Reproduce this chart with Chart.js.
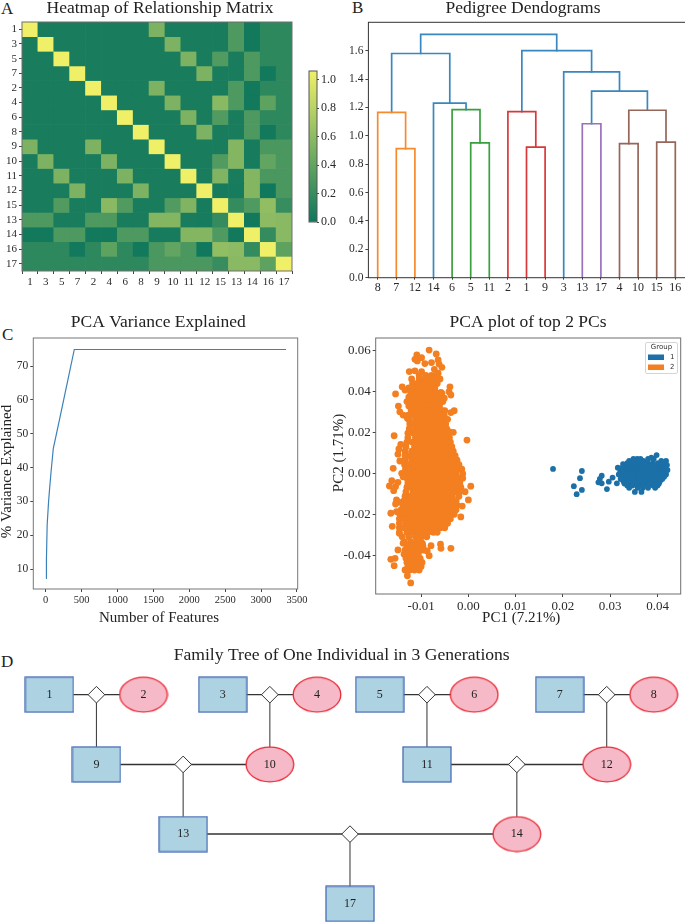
<!DOCTYPE html>
<html><head><meta charset="utf-8">
<script src="https://cdn.jsdelivr.net/npm/chart.js@4"></script>
<style>
html,body{margin:0;padding:0;background:#fff;width:685px;height:923px;overflow:hidden;position:relative}
canvas{position:absolute;filter:blur(.3px)}
.tag{position:absolute;font:17px 'Liberation Serif',serif;color:#222;line-height:17px}
</style></head><body>
<div class="tag" style="left:1px;top:0px">A</div>
<div class="tag" style="left:352px;top:-1px">B</div>
<div class="tag" style="left:2px;top:326px">C</div>
<div class="tag" style="left:1px;top:653px">D</div>
<script>
/* ---------- A: relationship heatmap ---------- */
const heatLabels = ['1','3','5','7','2','4','6','8','9','10','11','12','15','13','14','16','17'];
const heatRow1  = [1.06,.06,.06,.06,.06,.06,.06,.06,.52,.06,.06,.06,.06,.30,.03,.16,.16];
const heatRow3  = [.06,1.06,.06,.06,.06,.06,.06,.06,.06,.52,.06,.06,.06,.30,.03,.16,.16];
const heatRow5  = [.06,.06,1.06,.06,.06,.06,.06,.06,.06,.06,.52,.06,.32,.06,.30,.16,.16];
const heatRow7  = [.06,.06,.06,1.06,.06,.06,.06,.06,.06,.06,.06,.52,.06,.06,.30,.03,.16];
const heatRow2  = [.06,.06,.06,.06,1.06,.06,.06,.06,.52,.06,.06,.06,.06,.30,.03,.16,.16];
const heatRow4  = [.06,.06,.06,.06,.06,1.06,.06,.06,.06,.52,.06,.06,.58,.30,.03,.38,.16];
const heatRow6  = [.06,.06,.06,.06,.06,.06,1.06,.06,.06,.06,.52,.06,.32,.06,.30,.16,.16];
const heatRow8  = [.06,.06,.06,.06,.06,.06,.06,1.06,.06,.06,.06,.52,.06,.06,.30,.03,.16];
const heatRow9  = [.52,.06,.06,.06,.52,.06,.06,.06,1.06,.06,.06,.06,.06,.56,.05,.29,.29];
const heatRow10 = [.06,.52,.06,.06,.06,.52,.06,.06,.06,1.06,.06,.06,.32,.56,.05,.40,.29];
const heatRow11 = [.06,.06,.52,.06,.06,.06,.52,.06,.06,.06,1.06,.06,.54,.06,.56,.29,.29];
const heatRow12 = [.06,.06,.06,.52,.06,.06,.06,.52,.06,.06,.06,1.06,.05,.05,.56,.02,.29];
const heatRow15 = [.06,.06,.32,.06,.06,.58,.32,.06,.06,.32,.54,.05,1.06,.18,.31,.62,.20];
const heatRow13 = [.30,.30,.06,.06,.30,.30,.06,.06,.56,.56,.06,.05,.18,1.06,.03,.60,.58];
const heatRow14 = [.03,.03,.30,.30,.03,.03,.30,.30,.05,.05,.56,.56,.31,.03,1.06,.18,.58];
const heatRow16 = [.16,.16,.16,.03,.16,.38,.16,.03,.29,.40,.29,.02,.62,.60,.18,1.06,.38];
const heatRow17 = [.16,.16,.16,.16,.16,.16,.16,.16,.29,.29,.29,.29,.20,.58,.58,.38,1.06];
const heatMatrix = [heatRow1,heatRow3,heatRow5,heatRow7,heatRow2,heatRow4,heatRow6,heatRow8,heatRow9,heatRow10,heatRow11,heatRow12,heatRow15,heatRow13,heatRow14,heatRow16,heatRow17];
const colorbarTicks = [0,.2,.4,.6,.8,1];

/* ---------- B: dendrogram ---------- */
const leafLabels = ['8','7','12','14','6','5','11','2','1','9','3','13','17','4','10','15','16'];
const leafPositions = [5,15,25,35,45,55,65,75,85,95,105,115,125,135,145,155,165];
const dendroTicks = [0,.2,.4,.6,.8,1,1.2,1.4,1.6];
const linkXs = [[15,15,25,25],[5,5,20,20],[55,55,65,65],[45,45,60,60],[35,35,52.5,52.5],[12.5,12.5,43.75,43.75],
  [85,85,95,95],[75,75,90,90],[115,115,125,125],[135,135,145,145],[155,155,165,165],[140,140,160,160],
  [120,120,150,150],[105,105,135,135],[82.5,82.5,120,120],[28.1,28.1,101.25,101.25]];
const linkHeights = [[0,.91,.91,0],[0,1.165,1.165,.91],[0,.95,.95,0],[0,1.185,1.185,.95],[0,1.23,1.23,1.185],[1.165,1.58,1.58,1.23],
  [0,.92,.92,0],[0,1.17,1.17,.92],[0,1.085,1.085,0],[0,.945,.945,0],[0,.955,.955,0],[.945,1.18,1.18,.955],
  [1.085,1.315,1.315,1.18],[0,1.45,1.45,1.315],[1.17,1.6,1.6,1.45],[1.58,1.715,1.715,1.6]];
const linkColors = ['#f58a2e','#f58a2e','#3aa03f','#3aa03f','#3a87bd','#3a87bd','#d8383a','#d8383a','#9a70bb','#96665a','#96665a','#96665a','#3a87bd','#3a87bd','#3a87bd','#3a87bd'];

/* ---------- C: variance curve ---------- */
const featureCounts = [5,10,20,40,60,80,106,200,300,398,1000,2000,3347];
const varianceExplained = [7.2,13,23,30,35.3,40,45.7,55,65,74.9,74.9,74.9,74.9];
const featureTicks = [0,500,1000,1500,2000,2500,3000,3500];
const varianceTicks = [10,20,30,40,50,60,70];

/* ---------- D: PCA scatter ---------- */
const orangeRowPC2 = [.0478,.0460,.0438,.0416,.0394,.0372,.0350,.0328,.0306,.0284,.0262,.0240,.0218,.0196,.0174,.0152,.0130,.0108,.0086,.0064,.0042,.0020,-.0002,-.0024,-.0046,-.0068,-.0090,-.0112,-.0134,-.0156,-.0178,-.0200,-.0222,-.0244,-.0266,-.0288,-.0310,-.0335,-.0355,-.0375,-.0395,-.0415,-.0435,-.0455,-.0472];
const orangeRowPC1 = [
[-.0104,-.0090,-.0078,-.0069],
[-.0120,-.0104,-.0092,-.0081,-.0071,-.0060],
[-.0118,-.0108,-.0097,-.0086,-.0076,-.0066],
[-.0126,-.0115,-.0103,-.0093,-.0082,-.0071],
[-.0122,-.0112,-.0101,-.0090,-.0080,-.0069,-.0058],
[-.0126,-.0116,-.0105,-.0094,-.0083,-.0073,-.0062],
[-.0130,-.0119,-.0108,-.0098,-.0087,-.0076,-.0066,-.0054],
[-.0126,-.0115,-.0104,-.0093,-.0082,-.0072,-.0061],
[-.0121,-.0110,-.0099,-.0088,-.0078,-.0067,-.0056,-.0050],
[-.0127,-.0116,-.0105,-.0094,-.0084,-.0073,-.0062,-.0051],
[-.0126,-.0112,-.0101,-.0090,-.0079,-.0069,-.0058,-.0047],
[-.0124,-.0117,-.0106,-.0095,-.0085,-.0074,-.0063,-.0052,-.0048],
[-.0125,-.0112,-.0100,-.0090,-.0079,-.0068,-.0057,-.0046],
[-.0128,-.0117,-.0106,-.0095,-.0084,-.0073,-.0063,-.0052,-.0044],
[-.0128,-.0112,-.0101,-.0090,-.0079,-.0068,-.0058,-.0047,-.0040],
[-.0130,-.0119,-.0107,-.0096,-.0085,-.0074,-.0063,-.0052,-.0042,-.0038],
[-.0132,-.0114,-.0102,-.0091,-.0080,-.0069,-.0058,-.0047,-.0035],
[-.0134,-.0120,-.0108,-.0097,-.0086,-.0075,-.0064,-.0053,-.0042,-.0032],
[-.0134,-.0125,-.0114,-.0103,-.0092,-.0081,-.0070,-.0059,-.0048,-.0037,-.0028],
[-.0134,-.0120,-.0108,-.0097,-.0086,-.0075,-.0064,-.0053,-.0042,-.0031,-.0024],
[-.0135,-.0125,-.0114,-.0103,-.0092,-.0081,-.0070,-.0059,-.0048,-.0037,-.0026,-.0020],
[-.0133,-.0120,-.0108,-.0097,-.0086,-.0075,-.0064,-.0053,-.0042,-.0031,-.0020,-.0014],
[-.0132,-.0125,-.0114,-.0103,-.0092,-.0081,-.0070,-.0059,-.0048,-.0037,-.0026,-.0012],
[-.0130,-.0120,-.0108,-.0097,-.0086,-.0075,-.0064,-.0053,-.0042,-.0031,-.0020,-.0012],
[-.0128,-.0117,-.0106,-.0095,-.0084,-.0073,-.0062,-.0051,-.0040,-.0029,-.0018],
[-.0130,-.0122,-.0111,-.0100,-.0089,-.0078,-.0067,-.0056,-.0045,-.0034,-.0023,-.0016],
[-.0132,-.0117,-.0106,-.0095,-.0084,-.0073,-.0062,-.0051,-.0040,-.0029,-.0018],
[-.0134,-.0122,-.0111,-.0100,-.0089,-.0078,-.0067,-.0056,-.0045,-.0034,-.0020],
[-.0136,-.0125,-.0114,-.0103,-.0092,-.0081,-.0070,-.0059,-.0048,-.0037,-.0026],
[-.0138,-.0128,-.0117,-.0106,-.0095,-.0084,-.0073,-.0062,-.0051,-.0040,-.0029,-.0024],
[-.0142,-.0131,-.0120,-.0109,-.0098,-.0087,-.0076,-.0065,-.0054,-.0043,-.0032,-.0026],
[-.0145,-.0134,-.0123,-.0112,-.0101,-.0090,-.0079,-.0068,-.0057,-.0046,-.0036,-.0030],
[-.0146,-.0136,-.0125,-.0114,-.0103,-.0092,-.0081,-.0070,-.0059,-.0048,-.0038],
[-.0146,-.0133,-.0122,-.0111,-.0100,-.0089,-.0078,-.0067,-.0056,-.0044],
[-.0146,-.0136,-.0125,-.0114,-.0103,-.0092,-.0081,-.0070,-.0059,-.0050],
[-.0146,-.0130,-.0118,-.0107,-.0096,-.0085,-.0074,-.0066],
[-.0140,-.0126,-.0112,-.0100,-.0088],
[-.0135,-.0122,-.0110,-.0100],
[-.0130,-.0118,-.0108,-.0096],
[-.0134,-.0124,-.0112,-.0102,-.0094],
[-.0136,-.0126,-.0114,-.0106],
[-.0132,-.0122,-.0112,-.0102],
[-.0130,-.0118,-.0108,-.0098],
[-.0128,-.0120,-.0110,-.0100],
[-.0134,-.0124,-.0114,-.0104]];
const orangeStrayPC1 = [-.0083,-.0068,-.0109,-.0099,-.0113,-.0108,-.0092,-.0078,-.0064,-.0062,-.0056,-.0072,-.0125,-.0113,-.0099,-.0064,-.0154,-.0140,-.0134,-.0039,-.0056,-.0041,-.0037,-.0051,-.0148,-.0145,-.0138,-.0129,-.0030,-.0037,-.0044,-.0157,-.0143,-.0147,-.0149,-.0145,-.0159,-.0141,-.0138,-.0162,-.0167,-.0149,-.0154,-.0158,-.0152,-.0147,-.0154,-.0164,-.0152,-.0003,-.0041,-.0032,-.0028,.0005,-.0007,.0000,-.0013,-.0035,-.0016,-.0051,-.0161,-.0148,-.0146,-.0037,-.0059,-.0058,-.0079,-.0097,-.0083,-.0087,-.0149,-.0164,-.0155,-.0157,-.0138,-.0129,-.0122];
const orangeStrayPC2 = [.0601,.0582,.0577,.0564,.0556,.0548,.0535,.0540,.0553,.0533,.0517,.0507,.0496,.0500,.0496,.0488,.0387,.0422,.0406,.0422,.0390,.0398,.0382,.0366,.0328,.0300,.0284,.0268,.0305,.0296,.0263,.0183,.0141,.0119,.0093,.0060,.0024,.0000,-.0017,-.0036,-.0062,-.0044,-.0065,-.0085,-.0130,-.0141,-.0150,-.0195,-.0187,.0162,.0203,.0200,.0073,-.0063,-.0090,-.0130,-.0160,-.0184,-.0213,-.0256,-.0259,-.0190,-.0293,-.0366,-.0346,-.0366,-.0353,-.0343,-.0402,-.0379,-.0374,-.0420,-.0415,-.0451,-.0341,-.0500,-.0535];
const blueRowPC2 = [.0070,.0060,.0050,.0040,.0028,.0016,.0005,-.0006,-.0017,-.0028,-.0039,-.0050,-.0060,-.0071];
const blueRowPC1 = [
[.0349,.0357,.0364,.0380,.0392],
[.0340,.0350,.0360,.0370,.0408,.0418],
[.0336,.0346,.0357,.0368,.0379,.0390,.0401,.0413],
[.0330,.0341,.0352,.0363,.0374,.0385,.0396,.0407,.0420],
[.0326,.0337,.0347,.0358,.0369,.0380,.0391,.0402,.0413],
[.0324,.0335,.0346,.0357,.0368,.0379,.0390,.0401,.0412,.0421],
[.0321,.0331,.0342,.0352,.0363,.0374,.0385,.0396,.0407,.0417],
[.0318,.0329,.0340,.0351,.0362,.0373,.0384,.0395,.0406,.0418],
[.0327,.0338,.0349,.0360,.0371,.0382,.0393,.0404,.0414],
[.0322,.0333,.0344,.0355,.0366,.0377,.0388,.0399,.0410],
[.0328,.0339,.0350,.0361,.0372,.0383,.0394,.0405],
[.0330,.0341,.0352,.0363,.0374,.0385,.0396,.0403],
[.0336,.0347,.0358,.0369,.0380,.0391,.0400],
[.0340,.0358,.0369,.0380,.0395]];
const blueStrayPC1 = [.0179,.0240,.0236,.0223,.0240,.0229,.0282,.0278,.0275,.0282,.0293,.0297,.0305,.0314,.0316,.0327,.0352,.0366,.0387,.0398];
const blueStrayPC2 = [.0021,.0011,-.0024,-.0063,-.0081,-.0102,-.0012,-.0028,-.0044,-.0049,-.0077,-.0041,-.0021,-.0049,.0027,.0045,-.0091,-.0091,.0076,.0089];
const groupNames = ['1','2'];
const pc1Ticks = [-.01,0,.01,.02,.03,.04];
const pc2Ticks = [-.04,-.02,0,.02,.04,.06];

/* ---------- E: family tree ---------- */
const memberIds = [1,2,3,4,5,6,7,8,9,10,11,12,13,14,17];
const founderX = {1:49.4,2:143.5,3:222.7,4:317,5:379.7,6:474.2,7:559.7,8:653.7};
const generationOf = {1:0,2:0,3:0,4:0,5:0,6:0,7:0,8:0,9:1,10:1,11:1,12:1,13:2,14:2,17:3};
const couples = [[1,2,9],[3,4,10],[5,6,11],[7,8,12],[9,10,13],[11,12,14],[13,14,17]];

/* ---------- helpers ---------- */
const SERIF = "'Liberation Serif','Times New Roman',serif";
const INK = '#2a2a2a';
Chart.defaults.animation = false;
Chart.defaults.responsive = false;
Chart.defaults.font.family = SERIF;
Chart.defaults.color = INK;
Chart.defaults.layout.autoPadding = false;
Chart.defaults.plugins.legend.display = false;
Chart.defaults.plugins.tooltip.enabled = false;

const framePlugin = { id:'frame', afterDraw(chart, args, o){
  if(!o.color) return;
  const a = chart.chartArea, c = chart.ctx;
  c.save(); c.strokeStyle = o.color; c.lineWidth = o.width||1;
  c.strokeRect(a.left, a.top, a.right-a.left, a.bottom-a.top); c.restore();
}};
/* centre the library's title on a given x of the canvas */
const titleCentre = { id:'titleCentre', afterLayout(chart, args, o){
  const t = chart.titleBlock;
  if(!t || o.x === undefined) return;
  const w = t.right - t.left;
  t.left = o.x - w/2; t.right = o.x + w/2;
}};
Chart.register(framePlugin, titleCentre);

function canvasAt(l,t,r,b){
  const c = document.createElement('canvas');
  c.width = r-l; c.height = b-t;
  c.style.left = l+'px'; c.style.top = t+'px';
  document.body.appendChild(c);
  return c.getContext('2d');
}
function titleOpt(text,size,top,bottom){
  return {display:true,text,color:'#222',font:{size,weight:'normal',lineHeight:1},padding:{top,bottom}};
}
function axisTitle(text,size,pad){
  return {display:true,text,color:'#222',font:{size,weight:'normal',lineHeight:1},padding:pad};
}
/* keep the library's own axis title but nudge it along its axis */
function shiftTitle(scale,dx,dy){
  if(scale.__shifted) return; scale.__shifted = true;
  const draw = scale.drawTitle;
  if(draw) scale.drawTitle = function(){ this.ctx.save(); this.ctx.translate(dx,dy); draw.call(this); this.ctx.restore(); };
}
const tickGrid = (len,color) => ({display:true,drawOnChartArea:false,drawTicks:true,tickLength:len,tickColor:color||'#444'});
const fixedTicks = list => s => { s.ticks = list.map(value=>({value})); };

/* ---------- A ---------- */
function summer(v,max){
  const t = Math.min(1,Math.max(0,v/max));
  return `rgb(${Math.round(12+228*t)},${Math.round(118+122*t)},${Math.round(92+12*t)})`;
}
new Chart(canvasAt(0,0,320,300),{
  type:'bar',
  data:{labels:heatLabels,datasets:heatMatrix.map((row,i)=>({label:heatLabels[i],data:row.map(()=>1),backgroundColor:row.map(v=>summer(v,1.06)),barPercentage:1,categoryPercentage:1,stack:'s'}))},
  options:{
    layout:{padding:{left:0,right:28,top:0,bottom:0}},
    plugins:{title:titleOpt('Heatmap of Relationship Matrix',17.5,0,4.5),titleCentre:{x:160},frame:{color:'#6e6e6e',width:1}},
    scales:{
      x:{stacked:true,grid:tickGrid(3),border:{display:false},ticks:{font:{size:11},padding:2,maxRotation:0,autoSkip:false},afterFit:s=>{s.height=29}},
      y:{stacked:true,reverse:true,min:0,max:17,grid:tickGrid(3),border:{display:false},
         afterBuildTicks:s=>{s.ticks=heatLabels.map((_,i)=>({value:i+.5}))},
         ticks:{font:{size:11},padding:2,autoSkip:false,callback:v=>heatLabels[Math.round(v-.5)]},afterFit:s=>{s.width=22}}
    }
  }
});
/* colour bar */
new Chart(canvasAt(300,60,345,233),{
  type:'bar',
  data:{labels:[''],datasets:[{data:[[0,1.06]],barPercentage:1,categoryPercentage:1,
    backgroundColor:ctx=>{
      const a = ctx.chart.chartArea; if(!a) return '#888';
      const g = ctx.chart.ctx.createLinearGradient(0,a.bottom,0,a.top);
      [0,.25,.5,.75,1].forEach(t=>g.addColorStop(t,summer(t,1)));
      return g;
    }}]},
  options:{
    layout:{padding:{left:9,top:11,bottom:11,right:0}},
    plugins:{frame:{color:'#555',width:1}},
    scales:{
      x:{display:false},
      y:{position:'right',min:0,max:1.06,grid:tickGrid(2),border:{display:false},
         afterBuildTicks:fixedTicks(colorbarTicks),
         ticks:{font:{size:12},padding:2,callback:v=>v.toFixed(1)},afterFit:s=>{s.width=28}}
    }
  }
});

/* ---------- B ---------- */
new Chart(canvasAt(340,0,706,300),{
  type:'scatter',
  data:{datasets:linkXs.map((xs,i)=>({data:xs.map((x,j)=>({x,y:linkHeights[i][j]})),showLine:true,borderColor:linkColors[i],borderWidth:1.7,pointRadius:0,tension:0,borderCapStyle:'square'}))},
  options:{
    layout:{padding:{right:20,top:0,bottom:0,left:0}},
    plugins:{title:titleOpt('Pedigree Dendograms',17.5,0,4.8),titleCentre:{x:183},frame:{color:'#333',width:1}},
    scales:{
      x:{min:0,max:170.75,grid:tickGrid(2),border:{display:false},
         afterBuildTicks:fixedTicks(leafPositions),
         ticks:{font:{size:12},padding:1,maxRotation:0,autoSkip:false,callback:v=>leafLabels[leafPositions.indexOf(v)]},afterFit:s=>{s.height=22.3}},
      y:{min:0,max:1.8,grid:tickGrid(3),border:{display:false},
         afterBuildTicks:fixedTicks(dendroTicks),
         ticks:{font:{size:11.5},padding:2,callback:v=>v.toFixed(1)},afterFit:s=>{s.width=28.4}}
    }
  }
});

/* ---------- C ---------- */
new Chart(canvasAt(0,310,317,640),{
  type:'line',
  data:{datasets:[{data:featureCounts.map((x,i)=>({x,y:varianceExplained[i]})),borderColor:'#3c82b8',borderWidth:1.2,pointRadius:0,tension:0}]},
  options:{
    parsing:false,
    layout:{padding:{right:19.3,top:0,bottom:0,left:0}},
    plugins:{title:titleOpt('PCA Variance Explained',17.5,4,6.5),titleCentre:{x:158.3},frame:{color:'#777',width:1}},
    scales:{
      x:{type:'linear',min:-173,max:3510,grid:tickGrid(3),border:{display:false},
         title:axisTitle('Number of Features',15,{top:0,bottom:14}),
         afterBuildTicks:fixedTicks(featureTicks),
         ticks:{font:{size:10.5},padding:2,maxRotation:0,callback:v=>String(v)},
         afterFit:s=>{s.height=51;shiftTitle(s,-6.5,0)}},
      y:{min:4.1,max:78.3,grid:tickGrid(3),border:{display:false},
         title:axisTitle('% Variance Explained',15,{top:0,bottom:0}),
         afterBuildTicks:fixedTicks(varianceTicks),
         ticks:{font:{size:11.5},padding:2,callback:v=>String(v)},
         afterFit:s=>{s.width=33.3;shiftTitle(s,0,8)}}
    }
  }
});

/* ---------- D ---------- */
const rowsToPoints = (ys,xss,sx,sy)=>xss.flatMap((xs,i)=>xs.map(x=>({x,y:ys[i]}))).concat(sx.map((x,i)=>({x,y:sy[i]})));
const pcaDatasets = [
  {label:groupNames[0],data:rowsToPoints(blueRowPC2,blueRowPC1,blueStrayPC1,blueStrayPC2),backgroundColor:'#1b70a8',borderWidth:0,pointRadius:2.9},
  {label:groupNames[1],data:rowsToPoints(orangeRowPC2,orangeRowPC1,orangeStrayPC1,orangeStrayPC2),backgroundColor:'#f37f20',borderWidth:0,pointRadius:3.4}
];
const groupLegend = { id:'groupLegend', afterDraw(chart){
  const c = chart.ctx;
  c.save();
  c.strokeStyle='#d5d5d5'; c.lineWidth=1;
  c.beginPath(); c.roundRect(325.5,32.5,32,31,1.5); c.stroke();
  c.fillStyle='#333'; c.font="7px 'DejaVu Sans',sans-serif"; c.textBaseline='middle';
  c.textAlign='center'; c.fillText('Group',341.5,37.5);
  c.textAlign='left';
  chart.data.datasets.forEach((d,i)=>{
    const y = 47+i*10;
    c.fillStyle=d.backgroundColor; c.fillRect(328,y-2.5,16,5.5);
    c.fillStyle='#333'; c.fillText(d.label,350,y+.5);
  });
  c.restore();
}};
new Chart(canvasAt(320,310,736,640),{
  type:'scatter',
  data:{datasets:pcaDatasets},
  options:{
    layout:{padding:{right:55.3,top:0,bottom:0,left:0}},
    plugins:{title:titleOpt('PCA plot of top 2 PCs',17.5,4,6.5),titleCentre:{x:208},frame:{color:'#6e6e6e',width:1}},
    scales:{
      x:{min:-.0196,max:.0449,grid:tickGrid(3),border:{display:false},
         title:axisTitle('PC1 (7.21%)',15,{top:0,bottom:14}),
         afterBuildTicks:fixedTicks(pc1Ticks),
         ticks:{font:{size:13},padding:2,maxRotation:0,callback:v=>v.toFixed(2)},
         afterFit:s=>{s.height=46;shiftTitle(s,-7,0)}},
      y:{min:-.0589,max:.066,grid:tickGrid(3),border:{display:false},
         title:axisTitle('PC2 (1.71%)',15,{top:12,bottom:0}),
         afterBuildTicks:fixedTicks(pc2Ticks),
         ticks:{font:{size:13},padding:2,callback:v=>v.toFixed(2)},
         afterFit:s=>{s.width=55.7;shiftTitle(s,0,-13)}}
    }
  },
  plugins:[groupLegend]
});

/* ---------- E ---------- */
function nodeStamp(shape){
  const n = document.createElement('canvas'); n.width=50; n.height=37;
  const c = n.getContext('2d');
  c.lineWidth=1.3;
  if(shape==='m'){ c.fillStyle='#add3e3'; c.strokeStyle='#4a6db5'; c.fillRect(1,1,48,35); c.strokeRect(1,1,48,35); }
  else { c.fillStyle='#f5b9c7'; c.strokeStyle='#ea2a36'; c.beginPath(); c.ellipse(25,18.5,23.8,17.3,0,0,Math.PI*2); c.fill(); c.stroke(); }
  return n;
}
const stamps = {m:nodeStamp('m'),f:nodeStamp('f')};
const isFemale = id => [2,4,6,8,10,12,14].includes(id);
const treeX = Object.assign({},founderX);
couples.forEach(([a,b,k])=>{ treeX[k]=(treeX[a]+treeX[b])/2; });
const nodePoints = memberIds.map(id=>({x:treeX[id],y:generationOf[id],id}));
const unionPoints = couples.map(([a,b])=>({x:(treeX[a]+treeX[b])/2,y:generationOf[a]}));
const edgeSets = couples.flatMap(([a,b,k],i)=>[
  {data:[{x:treeX[a],y:generationOf[a]},{x:treeX[b],y:generationOf[b]}],showLine:true,borderColor:'#333',borderWidth:generationOf[a]?1.5:1.3,pointRadius:0},
  {data:[unionPoints[i],{x:treeX[k],y:generationOf[k]}],showLine:true,borderColor:'#444',borderWidth:1.1,pointRadius:0}
]);
const nodeLabels = { id:'nodeLabels', afterDatasetsDraw(chart){
  const c = chart.ctx, sx=chart.scales.x, sy=chart.scales.y;
  c.save(); c.fillStyle='#222'; c.font="12px "+SERIF; c.textAlign='center'; c.textBaseline='middle';
  nodePoints.forEach(p=>c.fillText(String(p.id),sx.getPixelForValue(p.x),sy.getPixelForValue(p.y)));
  c.restore();
}};
new Chart(canvasAt(0,644,685,923),{
  type:'scatter',
  data:{datasets:[
    {data:nodePoints,pointStyle:nodePoints.map(p=>isFemale(p.id)?stamps.f:stamps.m),pointRadius:24},
    {data:unionPoints,pointStyle:'rectRot',pointRadius:8.3,backgroundColor:'#fff',borderColor:'#333',borderWidth:1},
    ...edgeSets
  ]},
  options:{
    layout:{padding:0},
    plugins:{title:titleOpt('Family Tree of One Individual in 3 Generations',17.6,3,5.4),titleCentre:{x:341.7}},
    scales:{
      x:{display:false,min:0,max:685},
      y:{display:false,reverse:true,min:-.354,max:3.275}
    }
  },
  plugins:[nodeLabels]
});
</script>
</body></html>
